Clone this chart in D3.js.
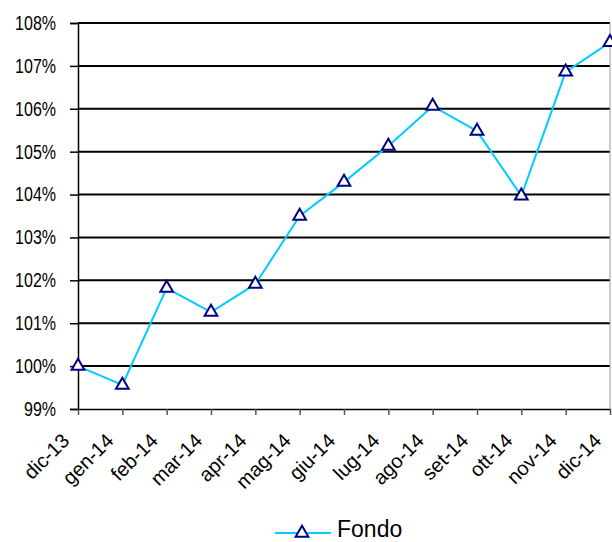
<!DOCTYPE html>
<html>
<head>
<meta charset="utf-8">
<script src="https://cdn.jsdelivr.net/npm/d3@7"></script>
<style>
  body { margin: 0; background: #fff; }
  text { font-family: "Liberation Sans", Arial, sans-serif; fill: #000; }
</style>
</head>
<body>
<div class="chart"></div>
<script>
var months = ['dic-13', 'gen-14', 'feb-14', 'mar-14', 'apr-14', 'mag-14', 'giu-14',
    'lug-14', 'ago-14', 'set-14', 'ott-14', 'nov-14', 'dic-14'];
var fondo = [100.0, 99.56, 101.82, 101.26, 101.91, 103.5, 104.29,
    105.13, 106.06, 105.48, 103.97, 106.86, 107.55];
var yTicks = [99, 100, 101, 102, 103, 104, 105, 106, 107, 108];

var margin = { top: 23, right: 2, bottom: 133, left: 78 };
var width = 612 - margin.left - margin.right;
var height = 542 - margin.top - margin.bottom;

var svg = d3.select('.chart')
    .append('svg')
    .attr('width', 612)
    .attr('height', 542);

var canvas = svg.append('g')
    .attr('transform', `translate(${margin.left},${margin.top})`);

var x = d3.scalePoint()
    .domain(months)
    .range([0, width]);

var y = d3.scaleLinear()
    .domain([99, 108])
    .range([height, 0]);

// gridlines
canvas.selectAll('.grid')
    .data(yTicks.slice(1))
    .enter()
    .append('line')
    .attr('x1', 0)
    .attr('x2', width)
    .attr('y1', d => y(d))
    .attr('y2', d => y(d))
    .attr('stroke', '#000')
    .attr('stroke-width', 2);

// right border
canvas.append('line')
    .attr('x1', width).attr('x2', width)
    .attr('y1', 0).attr('y2', height)
    .attr('stroke', '#999')
    .attr('stroke-width', 1);

// y axis
var yAxis = d3.axisLeft(y)
    .tickValues(yTicks)
    .tickSize(8)
    .tickPadding(14)
    .tickFormat(d => d + '%');

var gy = canvas.append('g').call(yAxis);
gy.select('.domain').attr('stroke', '#000').attr('stroke-width', 1.5);
gy.selectAll('.tick line').attr('stroke', '#000').attr('stroke-width', 1.5);
// labels in the picture are tall and narrow
gy.selectAll('text')
    .style('font-size', '20px')
    .attr('fill', '#000')
    .attr('x', -22 / 0.8)
    .attr('transform', 'scale(0.8,1)');

// x axis
var xAxis = d3.axisBottom(x)
    .tickSize(6)
    .tickSizeOuter(0);

var gx = canvas.append('g')
    .attr('transform', `translate(0, ${height})`)
    .call(xAxis);
gx.select('.domain').attr('stroke', '#000').attr('stroke-width', 1.5);
gx.selectAll('.tick line').attr('stroke', '#555').attr('stroke-width', 1.5);
gx.selectAll('text')
    .style('font-size', '20px')
    .attr('fill', '#000')
    .attr('text-anchor', 'end')
    .attr('dy', null)
    .attr('y', 0)
    .attr('transform', 'translate(-8, 33) rotate(-45)');

// line
var line = d3.line()
    .x((d, i) => x(months[i]))
    .y(d => y(d));

canvas.append('path')
    .datum(fondo)
    .attr('d', line)
    .attr('fill', 'none')
    .attr('stroke', '#00CCFF')
    .attr('stroke-width', 2);

var tri = d3.symbol().type(d3.symbolTriangle).size(70);

canvas.selectAll('.pt')
    .data(fondo)
    .enter()
    .append('path')
    .attr('d', tri)
    .attr('transform', (d, i) => `translate(${x(months[i])},${y(d)})`)
    .attr('fill', '#fff')
    .attr('stroke', '#000080')
    .attr('stroke-width', 2);

// legend
var lg = svg.append('g').attr('transform', 'translate(275, 533)');
lg.append('line')
    .attr('x1', 0).attr('x2', 56)
    .attr('y1', 0).attr('y2', 0)
    .attr('stroke', '#00CCFF')
    .attr('stroke-width', 2);
lg.append('path')
    .attr('d', tri)
    .attr('transform', 'translate(27, 0)')
    .attr('fill', '#fff')
    .attr('stroke', '#000080')
    .attr('stroke-width', 2);
lg.append('text')
    .attr('x', 62)
    .attr('y', 4)
    .style('font-size', '23px')
    .text('Fondo');
</script>
</body>
</html>
